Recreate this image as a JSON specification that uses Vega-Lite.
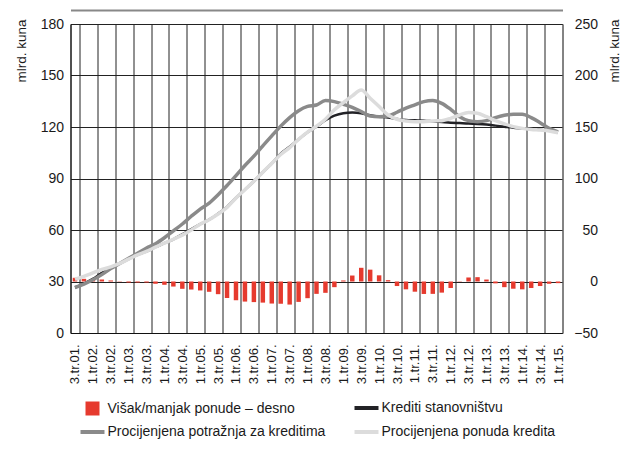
{
  "$schema": "https://vega.github.io/schema/vega-lite/v6.json",
  "autosize": {"type": "none"},
  "width": 492,
  "height": 309,
  "padding": {"left": 70.5, "top": 24, "right": 59.5, "bottom": 123},
  "background": "white",
  "config": {
    "font": "Liberation Sans",
    "view": {"stroke": null},
    "axis": {"labelFont": "Liberation Sans", "titleFont": "Liberation Sans", "labelColor": "#1a1a1a", "titleColor": "#1a1a1a", "titleFontWeight": "normal"},
    "legend": {"labelFont": "Liberation Sans"}
  },
  "data": {"values": [
    {"q": "3.tr.01.", "kred": 26.5, "potr": 26.5, "pon": 31.3, "visak": 3.6},
    {"q": "4.tr.01.", "kred": 28.8, "potr": 28.5, "pon": 33, "visak": 2.6},
    {"q": "1.tr.02.", "kred": 31.5, "potr": 31, "pon": 35, "visak": 2.2},
    {"q": "2.tr.02.", "kred": 35, "potr": 34, "pon": 37, "visak": 1.9},
    {"q": "3.tr.02.", "kred": 38, "potr": 37.5, "pon": 38.5, "visak": 1.0},
    {"q": "4.tr.02.", "kred": 40.5, "potr": 40.5, "pon": 40.5, "visak": 0.3},
    {"q": "1.tr.03.", "kred": 43, "potr": 43.5, "pon": 43, "visak": -1.0},
    {"q": "2.tr.03.", "kred": 45.5, "potr": 46.5, "pon": 45.5, "visak": -1.0},
    {"q": "3.tr.03.", "kred": 47.5, "potr": 49.5, "pon": 47.5, "visak": -1.0},
    {"q": "4.tr.03.", "kred": 50, "potr": 52, "pon": 50, "visak": -2.2},
    {"q": "1.tr.04.", "kred": 52.3, "potr": 55.5, "pon": 52.3, "visak": -3.2},
    {"q": "2.tr.04.", "kred": 54.6, "potr": 59.5, "pon": 54.6, "visak": -4.9},
    {"q": "3.tr.04.", "kred": 57.5, "potr": 63.5, "pon": 57, "visak": -7.1},
    {"q": "4.tr.04.", "kred": 60.5, "potr": 68, "pon": 60, "visak": -7.8},
    {"q": "1.tr.05.", "kred": 63.4, "potr": 72.2, "pon": 63.4, "visak": -8.7},
    {"q": "2.tr.05.", "kred": 66, "potr": 75.7, "pon": 66, "visak": -10},
    {"q": "3.tr.05.", "kred": 69.5, "potr": 80.6, "pon": 69.3, "visak": -12.3},
    {"q": "4.tr.05.", "kred": 73.5, "potr": 85.9, "pon": 73.2, "visak": -16},
    {"q": "1.tr.06.", "kred": 78.7, "potr": 91.7, "pon": 78.7, "visak": -18.2},
    {"q": "2.tr.06.", "kred": 83.5, "potr": 97.6, "pon": 83.5, "visak": -19.5},
    {"q": "3.tr.06.", "kred": 88.4, "potr": 103, "pon": 88.4, "visak": -20},
    {"q": "4.tr.06.", "kred": 93.7, "potr": 109, "pon": 93.7, "visak": -20.5},
    {"q": "1.tr.07.", "kred": 98.8, "potr": 114.8, "pon": 98.8, "visak": -21.4},
    {"q": "2.tr.07.", "kred": 104.5, "potr": 120.5, "pon": 104, "visak": -21.6},
    {"q": "3.tr.07.", "kred": 108.5, "potr": 125.5, "pon": 108, "visak": -22.4},
    {"q": "4.tr.07.", "kred": 112.8, "potr": 129.5, "pon": 112.8, "visak": -19.8},
    {"q": "1.tr.08.", "kred": 117, "potr": 132, "pon": 117, "visak": -16.2},
    {"q": "2.tr.08.", "kred": 120.2, "potr": 132.8, "pon": 120.5, "visak": -12},
    {"q": "3.tr.08.", "kred": 124, "potr": 135.4, "pon": 124.5, "visak": -11},
    {"q": "4.tr.08.", "kred": 126.6, "potr": 134.8, "pon": 130, "visak": -5.5},
    {"q": "1.tr.09.", "kred": 128, "potr": 133.2, "pon": 134.2, "visak": 1},
    {"q": "2.tr.09.", "kred": 128.4, "potr": 131.5, "pon": 138.1, "visak": 5.8},
    {"q": "3.tr.09.", "kred": 128, "potr": 129, "pon": 141.6, "visak": 13.3},
    {"q": "4.tr.09.", "kred": 126.8, "potr": 126.4, "pon": 136.8, "visak": 11.5},
    {"q": "1.tr.10.", "kred": 126, "potr": 126, "pon": 131.9, "visak": 6},
    {"q": "2.tr.10.", "kred": 125.5, "potr": 126.4, "pon": 127, "visak": 1.3},
    {"q": "3.tr.10.", "kred": 124.7, "potr": 128.6, "pon": 124.5, "visak": -4.4},
    {"q": "4.tr.10.", "kred": 124.1, "potr": 131, "pon": 123.5, "visak": -7.6},
    {"q": "1.tr.11.", "kred": 123.9, "potr": 132.9, "pon": 123.1, "visak": -9.9},
    {"q": "2.tr.11.", "kred": 123.7, "potr": 134.8, "pon": 123.1, "visak": -12.1},
    {"q": "3.tr.11.", "kred": 123.3, "potr": 135.4, "pon": 123.5, "visak": -12},
    {"q": "4.tr.11.", "kred": 122.9, "potr": 133.8, "pon": 123.7, "visak": -10.8},
    {"q": "1.tr.12.", "kred": 122.5, "potr": 130.3, "pon": 125, "visak": -6.3},
    {"q": "2.tr.12.", "kred": 122.3, "potr": 126, "pon": 127, "visak": -0.3},
    {"q": "3.tr.12.", "kred": 122.1, "potr": 123.7, "pon": 128.4, "visak": 3.9},
    {"q": "4.tr.12.", "kred": 121.8, "potr": 123.1, "pon": 128, "visak": 4.2},
    {"q": "1.tr.13.", "kred": 121.4, "potr": 123.7, "pon": 126, "visak": 1.9},
    {"q": "2.tr.13.", "kred": 120.8, "potr": 125.5, "pon": 123.7, "visak": -1.8},
    {"q": "3.tr.13.", "kred": 120.2, "potr": 126.8, "pon": 121.8, "visak": -5.5},
    {"q": "4.tr.13.", "kred": 119.6, "potr": 127.4, "pon": 120.2, "visak": -7},
    {"q": "1.tr.14.", "kred": 119.2, "potr": 127.4, "pon": 119.2, "visak": -7.6},
    {"q": "2.tr.14.", "kred": 118.8, "potr": 125.5, "pon": 118.6, "visak": -6.3},
    {"q": "3.tr.14.", "kred": 118.4, "potr": 122.5, "pon": 118.2, "visak": -4.4},
    {"q": "4.tr.14.", "kred": 117.9, "potr": 119.2, "pon": 117.7, "visak": -2.2},
    {"q": "1.tr.15.", "kred": 117.1, "potr": 117.1, "pon": 116.7, "visak": -1.6}
  ]},
  "resolve": {"scale": {"y": "independent"}, "axis": {"x": "independent"}},
  "layer": [
    {
      "mark": {"type": "bar", "width": {"band": 0.5}},
      "encoding": {
        "x": {
          "field": "q", "type": "ordinal",
          "scale": {"paddingInner": 0, "paddingOuter": 0, "domain": ["3.tr.01.","4.tr.01.","1.tr.02.","2.tr.02.","3.tr.02.","4.tr.02.","1.tr.03.","2.tr.03.","3.tr.03.","4.tr.03.","1.tr.04.","2.tr.04.","3.tr.04.","4.tr.04.","1.tr.05.","2.tr.05.","3.tr.05.","4.tr.05.","1.tr.06.","2.tr.06.","3.tr.06.","4.tr.06.","1.tr.07.","2.tr.07.","3.tr.07.","4.tr.07.","1.tr.08.","2.tr.08.","3.tr.08.","4.tr.08.","1.tr.09.","2.tr.09.","3.tr.09.","4.tr.09.","1.tr.10.","2.tr.10.","3.tr.10.","4.tr.10.","1.tr.11.","2.tr.11.","3.tr.11.","4.tr.11.","1.tr.12.","2.tr.12.","3.tr.12.","4.tr.12.","1.tr.13.","2.tr.13.","3.tr.13.","4.tr.13.","1.tr.14.","2.tr.14.","3.tr.14.","4.tr.14.","1.tr.15."]},
          "axis": {
            "values": ["3.tr.01.","1.tr.02.","3.tr.02.","1.tr.03.","3.tr.03.","1.tr.04.","3.tr.04.","1.tr.05.","3.tr.05.","1.tr.06.","3.tr.06.","1.tr.07.","3.tr.07.","1.tr.08.","3.tr.08.","1.tr.09.","3.tr.09.","1.tr.10.","3.tr.10.","1.tr.11.","3.tr.11.","1.tr.12.","3.tr.12.","1.tr.13.","3.tr.13.","1.tr.14.","3.tr.14.","1.tr.15."],
            "orient": "bottom",
            "tickBand": "extent",
            "grid": true, "gridColor": "#222", "gridWidth": 1, "gridOpacity": 1,
            "ticks": false, "tickSize": 0,
            "labelAngle": -90, "labelFontSize": 13, "labelPadding": 11,
            "domainColor": "#111", "title": null
          }
        },
        "y": {
          "field": "visak", "type": "quantitative",
          "scale": {"domain": [-50, 250], "nice": false, "zero": false},
          "axis": {
            "orient": "right", "values": [-50, 0, 50, 100, 150, 200, 250],
            "grid": false, "ticks": false, "tickSize": 0,
            "labelAlign": "right", "labelPadding": 35, "labelFontSize": 14,
            "domainColor": "#777",
            "title": "mlrd. kuna", "titleFontSize": 13.5, "titleAngle": -90, "titleAlign": "right", "titleBaseline": "alphabetic", "titleX": 56, "titleY": -5
          }
        },
        "color": {
          "datum": "Višak/manjak ponude – desno",
          "scale": {
            "domain": ["Višak/manjak ponude – desno", "Krediti stanovništvu", "Procijenjena potražnja za kreditima", "Procijenjena ponuda kredita"],
            "range": ["#e63a2e", "#222226", "#8a8a8a", "#dcdcdc"]
          },
          "legend": {
            "title": null, "orient": "none", "legendX": 15, "legendY": 377,
            "columns": 2, "direction": "horizontal", "gridAlign": "each",
            "columnPadding": 21, "rowPadding": 8,
            "labelFontSize": 14, "labelColor": "#1a1a1a", "labelOffset": 8, "labelLimit": 400,
            "symbolSize": 576, "symbolStrokeWidth": 4, "symbolOpacity": 1,
            "encode": {"symbols": {"update": {
              "shape": {"signal": "datum.value === 'Višak/manjak ponude – desno' ? 'square' : 'stroke'"},
              "size": {"signal": "datum.value === 'Višak/manjak ponude – desno' ? 196 : 576"},
              "fill": {"signal": "scale('color', datum.value)"},
              "stroke": {"signal": "scale('color', datum.value)"},
              "strokeWidth": {"signal": "datum.value === 'Višak/manjak ponude – desno' ? 0 : 4"},
              "opacity": {"value": 1}
            }}}
          }
        }
      }
    },
    {
      "layer": [
        {
          "mark": {"type": "line", "strokeWidth": 2.5, "interpolate": "monotone"},
          "encoding": {
            "x": {
              "field": "q", "type": "ordinal",
              "axis": {"orient": "top", "offset": 14, "domainColor": "#888", "domainWidth": 2, "labels": false, "ticks": false, "grid": false, "title": null}
            },
            "y": {
              "field": "kred", "type": "quantitative",
              "scale": {"domain": [0, 180], "nice": false},
              "axis": {
                "orient": "left", "values": [0, 30, 60, 90, 120, 150, 180],
                "grid": true, "gridColor": "#222", "gridWidth": 1, "gridOpacity": 1,
                "ticks": false, "tickSize": 0, "labelPadding": 7, "labelFontSize": 14,
                "domainColor": "#111",
                "title": "mlrd. kuna", "titleFontSize": 13.5, "titleAngle": -90, "titleAlign": "right", "titleBaseline": "alphabetic", "titleX": -45.5, "titleY": -5
              }
            },
            "color": {"datum": "Krediti stanovništvu"}
          }
        },
        {
          "mark": {"type": "line", "strokeWidth": 3.5, "interpolate": "monotone"},
          "encoding": {
            "x": {"field": "q", "type": "ordinal"},
            "y": {"field": "potr", "type": "quantitative"},
            "color": {"datum": "Procijenjena potražnja za kreditima"}
          }
        },
        {
          "mark": {"type": "line", "strokeWidth": 3.5, "interpolate": "monotone"},
          "encoding": {
            "x": {"field": "q", "type": "ordinal"},
            "y": {"field": "pon", "type": "quantitative"},
            "color": {"datum": "Procijenjena ponuda kredita"}
          }
        }
      ]
    }
  ]
}
